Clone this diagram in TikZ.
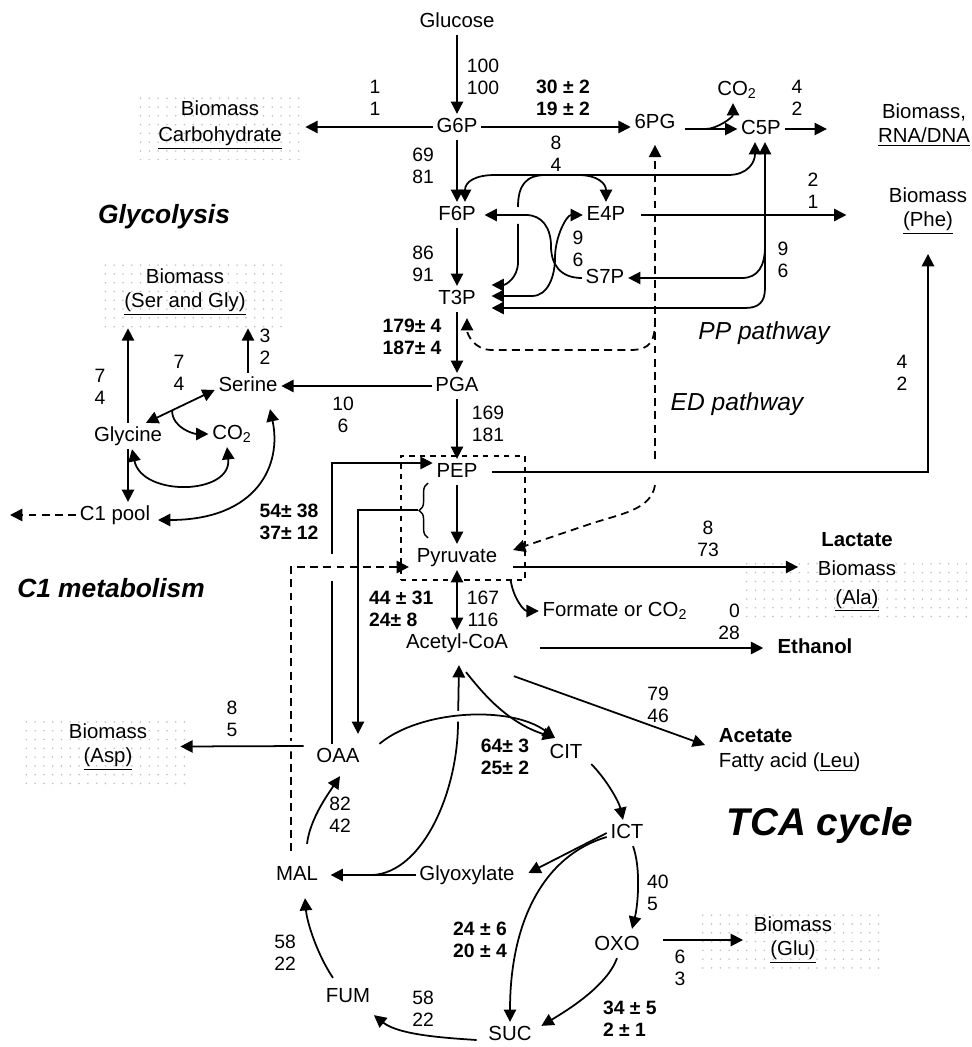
\documentclass[tikz,border=0pt]{standalone}
\usepackage{fontspec}
\setmainfont{Liberation Sans}
\usetikzlibrary{arrows.meta, calc, fit, decorations.pathreplacing, patterns.meta}

\begin{document}
\begin{tikzpicture}[x=0.02cm, y=-0.02cm,
    >={Triangle[length=7pt, width=7pt]},
    met/.style={font=\fontsize{11.6}{13.5}\selectfont, inner sep=2pt,
        text height=1.6ex, text depth=.4ex},
    flux/.style={font=\fontsize{11}{12.5}\selectfont, align=center,
        inner sep=1pt},
    bflux/.style={flux, font=\fontsize{11}{12.5}\selectfont\bfseries},
    biotext/.style={font=\fontsize{11.6}{13.5}\selectfont, align=center,
        inner sep=2pt},
    dotbox/.style={inner sep=0, pattern={Dots[distance=5pt, radius=.5pt]},
        pattern color=black!25},
    title/.style={font=\fontsize{15}{18}\selectfont\bfseries\itshape},
    pathname/.style={font=\fontsize{14}{17}\selectfont\itshape},
    arr/.style={->, line width=1pt},
    arr2/.style={<->, line width=1pt},
    darr/.style={arr, dash pattern=on 4.5pt off 3pt},
    over/.style={preaction={draw=white, line width=6pt, -}},
]
    \useasboundingbox (0,0) rectangle (971,1047);
    \fill[white] (0,0) rectangle (971,1047);

    %% shaded biomass boxes
    \node[dotbox, fit={(135,95) (305,160)}] (carbbox) {};
    \node[dotbox, fit={(100,265) (285,328)}] (sgbox) {};
    \node[dotbox, fit={(745,556) (975,620)}] (alabox) {};
    \node[dotbox, fit={(25,717) (190,790)}] (aspbox) {};
    \node[dotbox, fit={(700,910) (885,975)}] (glubox) {};

    %% metabolites
    \node[met] (glucose) at (457,22) {Glucose};
    \node[met] (g6p) at (457,127) {G6P};
    \node[met] (sixpg) at (655,123) {6PG};
    \node[met] (co2a) at (737,90) {CO\textsubscript{2}};
    \node[met] (c5p) at (761,129) {C5P};
    \node[met] (f6p) at (457,215) {F6P};
    \node[met] (e4p) at (606,215) {E4P};
    \node[met] (s7p) at (605,278) {S7P};
    \node[met] (t3p) at (457,299) {T3P};
    \node[met] (pga) at (457,386) {PGA};
    \node[met] (serine) at (248,386) {Serine};
    \node[met] (glycine) at (128,436) {Glycine};
    \node[met] (co2b) at (232,434) {CO\textsubscript{2}};
    \node[met] (c1pool) at (115,515) {C1 pool};
    \node[met] (pep) at (457,472) {PEP};
    \node[met] (pyr) at (457,557) {Pyruvate};
    \node[met] (accoa) at (457,643) {Acetyl-CoA};
    \node[met] (oaa) at (338,757) {OAA};
    \node[met] (cit) at (566,753) {CIT};
    \node[met] (ict) at (627,833) {ICT};
    \node[met] (glyox) at (467,875) {Glyoxylate};
    \node[met] (mal) at (297,875) {MAL};
    \node[met] (oxo) at (617,945) {OXO};
    \node[met] (fum) at (348,997) {FUM};
    \node[met] (suc) at (510,1035) {SUC};
    \node[met] (formate) at (615,611) {Formate or CO\textsubscript{2}};

    %% end products
    \node[biotext] (carb) at (220,125) {Biomass\\[1pt]\underline{Carbohydrate}};
    \node[biotext] (rna) at (924,125) {Biomass,\\\underline{RNA/DNA}};
    \node[biotext] (phe) at (928,211) {Biomass\\\underline{(Phe)}};
    \node[biotext] (sergly) at (185,292) {Biomass\\\underline{(Ser and Gly)}};
    \node[met, font=\fontsize{11.6}{13.5}\selectfont\bfseries] (lactate)
        at (857,541) {Lactate};
    \node[biotext] (ala) at (857,586) {Biomass\\[3pt]\underline{(Ala)}};
    \node[met, font=\fontsize{11.6}{13.5}\selectfont\bfseries] (ethanol)
        at (815,648) {Ethanol};
    \node[biotext, align=left, anchor=west] (acetate) at (715,750)
        {\textbf{Acetate}\\[1pt]Fatty acid (\underline{Leu})};
    \node[biotext] (asp) at (108,747) {Biomass\\\underline{(Asp)}};
    \node[biotext] (glu) at (793,940) {Biomass\\\underline{(Glu)}};

    %% pathway titles
    \node[title] (glycolysis) at (164,217) {Glycolysis};
    \node[title] (c1met) at (111,588) {C1 metabolism};
    \node[title, font=\fontsize{22}{26}\selectfont\bfseries\itshape] (tca)
        at (820,825) {TCA cycle};
    \node[pathname] (pplabel) at (764,333) {PP pathway};
    \node[pathname] (edlabel) at (737,404) {ED pathway};

    %% fluxes
    \node[flux] (v-glc) at (483,77) {100\\100};
    \node[flux] (v-carb) at (375,98) {1\\1};
    \node[bflux] (v-g6pdh) at (563,98) {30 ± 2\\19 ± 2};
    \node[flux] (v-rna) at (797,98) {4\\2};
    \node[flux] (v-pgi) at (423,166) {69\\81};
    \node[flux] (v-tk1) at (556,154) {8\\4};
    \node[flux] (v-phe1) at (813,191) {2\\1};
    \node[flux] (v-ta) at (578,249) {9\\6};
    \node[flux] (v-tk2) at (783,260) {9\\6};
    \node[flux] (v-pfk) at (423,264) {86\\91};
    \node[bflux] (v-gapdh) at (412,337) {179± 4\\187± 4};
    \node[flux] (v-ser) at (265,347) {3\\2};
    \node[flux] (v-gly) at (100,387) {7\\4};
    \node[flux] (v-shmt) at (179,373) {7\\4};
    \node[flux] (v-sera) at (343,415) {10\\6};
    \node[flux] (v-eno) at (488,424) {169\\181};
    \node[flux] (v-phe2) at (902,373) {4\\2};
    \node[bflux] (v-ppc) at (289,522) {54± 38\\37± 12};
    \node[flux] (v-ldh) at (708,539) {8\\73};
    \node[flux] (v-pdh) at (483,609) {167\\116};
    \node[bflux, align=left, anchor=west] (v-pck) at (367,609)
        {44 ± 31\\24± 8};
    \node[flux, align=right] (v-eth) at (729,622) {0\\28};
    \node[flux] (v-ack) at (658,705) {79\\46};
    \node[flux] (v-asp) at (232,719) {8\\5};
    \node[bflux] (v-cs) at (505,757) {64± 3\\25± 2};
    \node[flux] (v-mdh) at (340,815) {82\\42};
    \node[flux, align=left, anchor=west] (v-icd) at (645,893) {40\\5};
    \node[flux] (v-glu) at (680,968) {6\\3};
    \node[bflux] (v-icl) at (480,940) {24 ± 6\\20 ± 4};
    \node[bflux, align=left, anchor=west] (v-kgdh) at (601,1019)
        {34 ± 5\\2 ± 1};
    \node[flux] (v-fum) at (285,953) {58\\22};
    \node[flux] (v-sdh) at (423,1009) {58\\22};

    %% glycolysis
    \draw[arr] (glucose) -- (g6p);
    \draw[arr] (g6p) -- (g6p -| carbbox.east);
    \draw[arr] (g6p) -- (f6p);
    \draw[arr] (f6p) -- (t3p);
    \draw[arr] (t3p) -- (pga);
    \draw[arr] (pga) -- (pep);
    \draw[arr] (pep) -- (pyr);
    \draw[arr2] (pyr) -- (accoa);

    %% oxidative PP pathway
    \draw[arr] (g6p) -- (g6p -| sixpg.west);
    \draw[arr, shorten <=3pt] (sixpg.east |- c5p) -- (c5p.west);
    \draw[arr] ($(sixpg.east |- c5p)!.45!(c5p.west)$) .. controls +(12,0)
        and +(0,14) .. ($(co2a.south)+(-4,0)$);
    \draw[arr, shorten >=27pt] (c5p) -- (c5p -| rna.west);

    %% non-oxidative PP pathway
    \coordinate (t3pin1) at ($(t3p.east)+(12,-14)$);
    \coordinate (t3pin2) at ($(t3p.east)+(12,-3)$);
    \coordinate (t3pin3) at ($(t3p.east)+(12,9)$);
    \draw[arr2] ($(f6p.north)+(8,0)$) .. controls +(0,-20) and +(-20,0)
        .. (495,175) -- (728,175) .. controls +(20,0) and +(0,20)
        .. ($(c5p.south)+(-6,0)$);
    \draw[arr] (518,207) .. controls +(0,-22) and +(-20,0) .. (546,175)
        -- (578,175) .. controls +(20,0) and +(0,-18) .. (e4p.north);
    \draw[arr] (518,224) -- (518,262) .. controls +(0,16) and +(14,0)
        .. (t3pin1);
    \draw[arr] (s7p.west) .. controls +(-22,0) and +(0,18) .. (551,246)
        .. controls +(0,-18) and +(16,0) .. (526,215)
        -- ($(f6p.east)+(5,0)$);
    \draw[arr2] (t3pin2) -- (532,296) .. controls +(16,0) and +(0,18)
        .. (555,258) .. controls +(0,-22) and +(-16,0) .. (e4p.west);
    \draw[arr2] ($(c5p.south)+(4,0)$) -- (765,288) .. controls +(0,14)
        and +(14,0) .. (745,308) -- (t3pin3);
    \draw[arr] (765,246) .. controls +(0,20) and +(16,0) .. (742,278)
        -- (s7p.east);
    \draw[arr, shorten <=7pt, shorten >=22pt] (e4p) -- (e4p -| phe.west);

    %% ED pathway
    \draw[darr, shorten >=5pt] (sixpg.south |- pep.north) -- (sixpg.south);
    \draw[darr] (655,318) .. controls +(0,22) and +(22,0) .. (630,350)
        -- (492,350) .. controls +(-18,0) and +(0,16)
        .. ($(t3p.south)+(10,6)$);
    \draw[darr] (sixpg.south |- pep.south) .. controls +(-4,25) and +(30,-10)
        .. (590,524) -- ($(pyr.east)+(12,-7)$);

    %% pyruvate node and its outlets
    \node[draw, dashed, line width=.8pt, inner sep=0,
        fit={(401,456) (525,580)}] (pepbox) {};
    \draw[arr] ($(pepbox.south east)+(-15,0)$) .. controls +(3,18)
        and +(-15,0) .. (formate.west);
    \coordinate (pyrout) at ($(pyr.east)+(12,10)$);
    \draw[arr, shorten >=11pt] (pyrout) -- (pyrout -| lactate.west);
    \draw[arr, shorten <=6pt] (pep) -| ($(phe.south)+(0,16)$);

    %% serine, glycine and C1
    \draw[arr] (pga) -- (serine);
    \draw[arr] (serine) -- (serine |- sgbox.south);
    \draw[arr] (glycine) -- (glycine |- sgbox.south);
    \draw[arr2] ($(glycine.north)+(18,0)$) -- coordinate[pos=.38] (shmt)
        ($(serine.west)+(0,4)$);
    \draw[arr] (shmt) .. controls +(0,18) and +(-14,0) .. (co2b.west);
    \draw[arr2] ($(glycine.south)+(4,0)$) .. controls +(10,48) and +(5,48)
        .. ($(co2b.south)+(-5,0)$);
    \draw[arr] (glycine) -- (glycine |- c1pool.north);
    \coordinate (c1out) at (10,515);
    \draw[darr] (c1pool) -- (c1out);
    \draw[arr2] ($(c1pool.east)+(4,5)$) .. controls +(100,0) and +(12,55)
        .. ($(serine.south)+(22,10)$);

    %% anaplerotic reactions
    \draw[line width=1pt] ($(oaa.north)+(-6,0)$) -- ($(oaa.north)+(-6,-163)$);
    \draw[arr] ($(oaa.north)+(-6,-190)$) |- ($(pep.west)+(0,-9)$);
    \draw[line width=.8pt, decorate, decoration={brace, amplitude=5pt}]
        (428,538) -- (428,483);
    \coordinate (bracetip) at (418,510);
    \draw[arr] (bracetip) -| ($(oaa.north)+(20,-10)$);
    \draw[darr] ($(mal.north)+(-6,-11)$) |- ($(pyr.west)+(-4,10)$);
    \draw[arr, over] ($(oaa.west)+(-9,-11)$) -- ($(aspbox.east)+(-10,-7)$);

    %% acetyl-CoA outlets
    \draw[arr, shorten <=16pt, shorten >=6pt] (accoa.east |- ethanol)
        -- (ethanol.west);
    \draw[arr] ($(accoa.south east)+(2,20)$) -- ($(acetate.west)+(-10,-5)$);

    %% TCA cycle and glyoxylate shunt
    \draw[arr, shorten >=5pt] (glyox) -- (mal);
    \draw[arr] ($(mal.east)+(51,0)$) .. controls +(50,-3) and +(0,70)
        .. (458,722) -- ($(accoa.south)+(2,9)$);
    \draw[arr, over] ($(oaa.north east)+(16,0)$) .. controls (420,710)
        and (510,705) .. ($(cit.north)+(-11,-2)$);
    \draw[arr] ($(accoa.south)+(9,16)$) .. controls (482,692) and (506,722)
        .. ($(cit.north)+(-11,-2)$);
    \draw[arr] ($(cit.south east)+(5,-2)$) .. controls +(15,15)
        and +(-4,-18) .. ($(ict.north)+(-4,0)$);
    \draw[arr] (ict.west) -- ($(glyox.east)+(10,-2)$);
    \draw[arr] ($(ict.west)+(0,4)$) .. controls (545,855) and (510,920)
        .. (suc.north);
    \draw[arr] ($(ict.south)+(6,0)$) .. controls +(8,22) and +(6,-24)
        .. ($(oxo.north)+(15,-3)$);
    \draw[arr, shorten <=11pt, shorten >=4pt] (oxo.east |- glu) -- (glu.west);
    \draw[arr] (oxo.south) .. controls +(-10,28) and +(25,-15)
        .. ($(suc.north east)+(6,4)$);
    \draw[arr] ($(suc.west)+(-8,5)$) .. controls +(-30,-2) and +(25,20)
        .. ($(fum.south east)+(0,5)$);
    \draw[arr] ($(fum.north)+(-15,-6)$) .. controls +(-15,-22) and +(2,25)
        .. ($(mal.south)+(8,10)$);
    \draw[arr] ($(mal.north)+(10,-18)$) .. controls +(3,-25) and +(-12,18)
        .. ($(oaa.south)+(2,6)$);
\end{tikzpicture}
\end{document}
